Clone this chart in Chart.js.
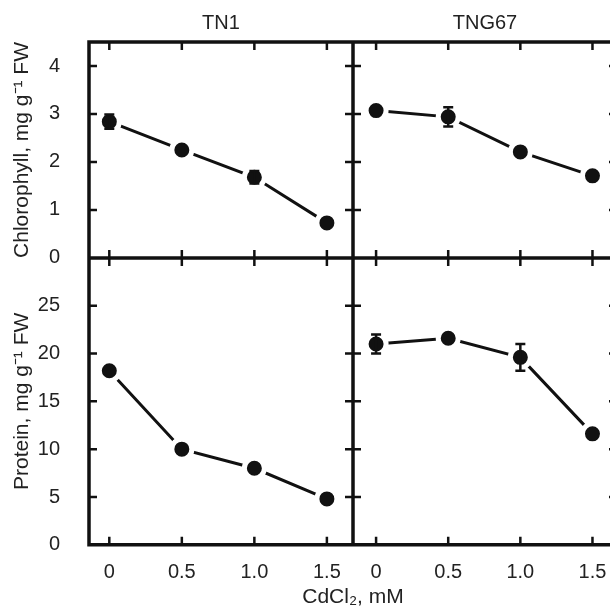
<!DOCTYPE html>
<html>
<head>
<meta charset="utf-8">
<script src="https://cdn.jsdelivr.net/npm/chart.js@4.4.1/dist/chart.umd.min.js"></script>
<style>
  html, body { margin: 0; padding: 0; background: #fff; overflow: hidden; }
  canvas { display: block; }
</style>
</head>
<body>
<canvas id="myChart" width="640" height="610"></canvas>
<script>
// CdCl2 doses (mM)
const doses = [0, 0.5, 1.0, 1.5];
const xTicks = [0, 0.5, 1.0, 1.5];
const xTickLabels = ['0', '0.5', '1.0', '1.5'];
const chlTicks = [0, 1, 2, 3, 4];
const protTicks = [0, 5, 10, 15, 20, 25];

// chlorophyll, mg g-1 FW
const chlTN1 = [2.84, 2.25, 1.68, 0.73];
const chlTN1Err = [0.15, 0, 0.13, 0];
const chlTNG67 = [3.07, 2.94, 2.21, 1.71];
const chlTNG67Err = [0, 0.2, 0, 0];

// protein, mg g-1 FW
const protTN1 = [18.2, 10.0, 8.0, 4.8];
const protTN1Err = [0, 0, 0, 0];
const protTNG67 = [21.0, 21.6, 19.6, 11.6];
const protTNG67Err = [1.0, 0, 1.4, 0];

const ink = '#111';
Chart.defaults.font.family = '"Liberation Sans", Arial, sans-serif';
Chart.defaults.color = '#222';

function pts(values) {
    return doses.map((d, i) => ({ x: d, y: values[i] }));
}

function series(values, errors, xID, yID) {
    return {
        data: pts(values),
        errors: errors,
        xAxisID: xID,
        yAxisID: yID,
        borderColor: ink,
        borderWidth: 3,
        tension: 0,
        pointRadius: 10,
        pointBorderWidth: 5,
        pointBackgroundColor: ink,
        pointBorderColor: '#fff'
    };
}

function setTicks(values) {
    return function(scale) {
        scale.ticks = values.map(v => ({ value: v }));
    };
}

// error bars with caps
const errorBars = {
    id: 'errorBars',
    afterDatasetsDraw(chart) {
        const ctx = chart.ctx;
        ctx.save();
        ctx.strokeStyle = ink;
        ctx.lineWidth = 2.5;
        chart.data.datasets.forEach((ds, i) => {
            const meta = chart.getDatasetMeta(i);
            const yScale = chart.scales[ds.yAxisID];
            meta.data.forEach((pt, j) => {
                const e = ds.errors[j];
                if (!e) return;
                const v = ds.data[j].y;
                const top = yScale.getPixelForValue(v + e);
                const bot = yScale.getPixelForValue(v - e);
                ctx.beginPath();
                ctx.moveTo(pt.x, top); ctx.lineTo(pt.x, bot);
                ctx.moveTo(pt.x - 5, top); ctx.lineTo(pt.x + 5, top);
                ctx.moveTo(pt.x - 5, bot); ctx.lineTo(pt.x + 5, bot);
                ctx.stroke();
            });
        });
        ctx.restore();
    }
};

// panel frames and inward ticks
const frames = {
    id: 'frames',
    afterDraw(chart) {
        const { ctx, chartArea: a, scales } = chart;
        const midY = scales.yChl.bottom;
        const midX = scales.x1.right;
        const t = 8;
        const seg = (x1, y1, x2, y2) => { ctx.moveTo(x1, y1); ctx.lineTo(x2, y2); };
        ctx.save();
        ctx.strokeStyle = ink;
        ctx.lineWidth = 3.5;
        ctx.beginPath();
        ctx.rect(a.left, a.top, a.right - a.left, a.bottom - a.top);
        seg(midX, a.top, midX, a.bottom);
        seg(a.left, midY, a.right, midY);
        ctx.stroke();

        ctx.lineWidth = 2.5;
        ctx.beginPath();
        ['x1', 'x2'].forEach(id => {
            xTicks.forEach(v => {
                const px = scales[id].getPixelForValue(v);
                seg(px, a.top, px, a.top + t);
                seg(px, midY - t, px, midY + t);
                seg(px, a.bottom, px, a.bottom - t);
            });
        });
        [['yChl', chlTicks], ['yProt', protTicks]].forEach(([id, vals]) => {
            vals.forEach(v => {
                if (v === 0) return;
                const py = scales[id].getPixelForValue(v);
                seg(a.left, py, a.left + t, py);
                seg(midX - t, py, midX + t, py);
                seg(a.right, py, a.right - t, py);
            });
        });
        ctx.stroke();
        ctx.restore();
    }
};

const ctx = document.getElementById('myChart');

new Chart(ctx, {
    type: 'line',
    data: {
        datasets: [
            series(chlTN1, chlTN1Err, 'x1', 'yChl'),
            series(chlTNG67, chlTNG67Err, 'x2', 'yChl'),
            series(protTN1, protTN1Err, 'x1', 'yProt'),
            series(protTNG67, protTNG67Err, 'x2', 'yProt')
        ]
    },
    options: {
        responsive: false,
        animation: false,
        events: [],
        layout: {
            padding: { left: 0, top: 0, right: 23, bottom: 0 }
        },
        scales: {
            x1: {
                type: 'linear',
                position: 'bottom',
                stack: 'bottom',
                weight: 0,
                min: -0.14,
                max: 1.68,
                grid: { display: false },
                border: { display: false },
                afterBuildTicks: setTicks(xTicks),
                afterFit: s => { s.height = 40; },
                ticks: {
                    autoSkip: false,
                    maxRotation: 0,
                    padding: 8,
                    font: { size: 20 },
                    callback: (v, i) => xTickLabels[i]
                }
            },
            x2: {
                type: 'linear',
                position: 'bottom',
                stack: 'bottom',
                weight: 1,
                min: -0.16,
                max: 1.67,
                grid: { display: false },
                border: { display: false },
                afterBuildTicks: setTicks(xTicks),
                afterFit: s => { s.height = 40; },
                ticks: {
                    autoSkip: false,
                    maxRotation: 0,
                    padding: 8,
                    font: { size: 20 },
                    callback: (v, i) => xTickLabels[i]
                }
            },
            xTop1: {
                type: 'linear',
                position: 'top',
                stack: 'top',
                weight: 1,
                min: 0,
                max: 1,
                grid: { display: false },
                border: { display: false },
                ticks: { display: false },
                afterFit: s => { s.height = 42; },
                title: {
                    display: true,
                    text: 'TN1',
                    font: { size: 20 },
                    padding: { top: 11, bottom: 0 }
                }
            },
            xTop2: {
                type: 'linear',
                position: 'top',
                stack: 'top',
                weight: 0,
                min: 0,
                max: 1,
                grid: { display: false },
                border: { display: false },
                ticks: { display: false },
                afterFit: s => { s.height = 42; },
                title: {
                    display: true,
                    text: 'TNG67',
                    font: { size: 20 },
                    padding: { top: 11, bottom: 0 }
                }
            },
            yChl: {
                type: 'linear',
                position: 'left',
                stack: 'left',
                stackWeight: 216,
                weight: 1,
                min: 0,
                max: 4.5,
                grid: { display: false },
                border: { display: false },
                afterBuildTicks: setTicks(chlTicks),
                afterFit: s => { s.width = 89; },
                ticks: { autoSkip: false, padding: 21, font: { size: 20 } },
                title: {
                    display: true,
                    text: 'Chlorophyll, mg g⁻¹ FW',
                    font: { size: 21 },
                    padding: { top: 10, bottom: 0 }
                }
            },
            yProt: {
                type: 'linear',
                position: 'left',
                stack: 'left',
                stackWeight: 287,
                weight: 0,
                min: 0,
                max: 30,
                grid: { display: false },
                border: { display: false },
                afterBuildTicks: setTicks(protTicks),
                afterFit: s => { s.width = 89; },
                ticks: { autoSkip: false, padding: 21, font: { size: 20 } },
                title: {
                    display: true,
                    text: 'Protein, mg g⁻¹ FW',
                    font: { size: 21 },
                    padding: { top: 10, bottom: 0 }
                }
            }
        },
        plugins: {
            legend: { display: false },
            tooltip: { enabled: false },
            title: {
                display: true,
                position: 'bottom',
                fullSize: false,
                text: 'CdCl₂, mM',
                color: '#222',
                font: { size: 21, weight: 'normal' },
                padding: { top: 0, bottom: 0 }
            }
        }
    },
    plugins: [errorBars, frames]
});
</script>
</body>
</html>
